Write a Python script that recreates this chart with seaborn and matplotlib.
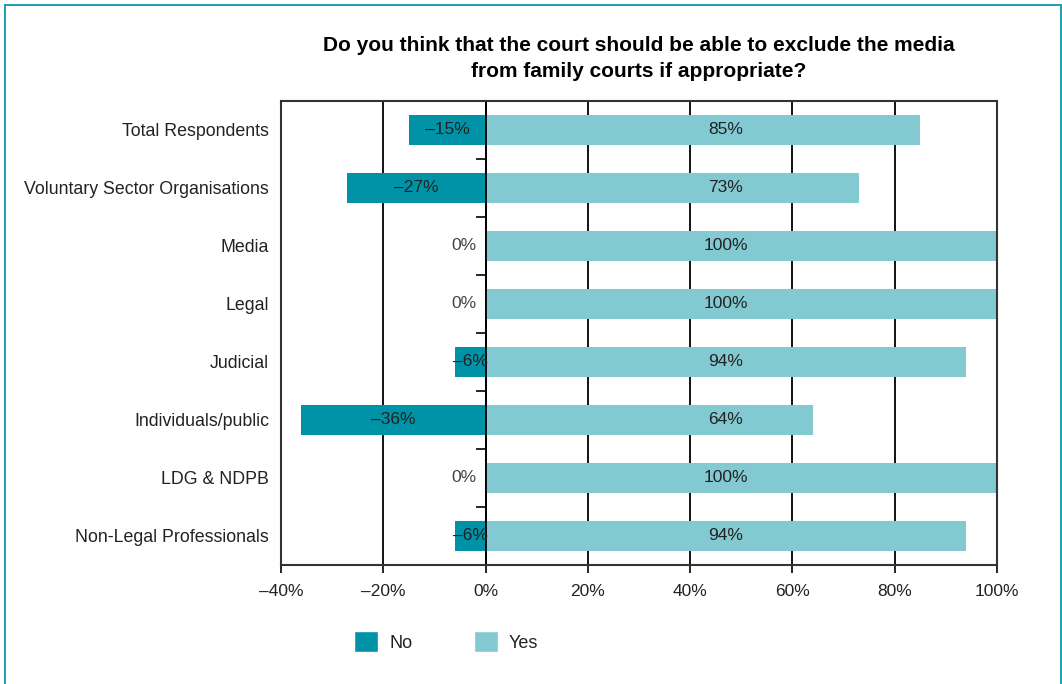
import matplotlib
matplotlib.use("Agg")
import matplotlib.pyplot as plt
from matplotlib.patches import Patch, Rectangle
import seaborn as sns
import pandas as pd

categories = [
    "Total Respondents",
    "Voluntary Sector Organisations",
    "Media",
    "Legal",
    "Judicial",
    "Individuals/public",
    "LDG & NDPB",
    "Non-Legal Professionals",
]
no_values = [-15, -27, 0, 0, -6, -36, 0, -6]
yes_values = [85, 73, 100, 100, 94, 64, 100, 94]
x_ticks = [-40, -20, 0, 20, 40, 60, 80, 100]
x_tick_labels = ["\u201340%", "\u201320%", "0%", "20%", "40%", "60%", "80%", "100%"]
title = ("Do you think that the court should be able to exclude the media\n"
         "from family courts if appropriate?")

NO_COLOR = "#0093A7"
YES_COLOR = "#82C9D1"
TEXT = "#222222"

sns.set_theme(style="white")
plt.rcParams["font.family"] = ["Liberation Sans", "DejaVu Sans"]

df = pd.DataFrame({
    "category": categories * 2,
    "response": ["No"] * len(categories) + ["Yes"] * len(categories),
    "value": no_values + yes_values,
})

fig = plt.figure(figsize=(10.62, 6.84), dpi=100)
ax = fig.add_axes([0.2646, 0.174, 0.6742, 0.6784])

sns.barplot(data=df, y="category", x="value", hue="response", orient="h",
            dodge=False, width=0.53, saturation=1, errorbar=None,
            palette={"No": NO_COLOR, "Yes": YES_COLOR},
            legend=False, ax=ax)
for p in ax.patches:
    p.set_linewidth(0)
    p.set_zorder(3)

ax.set_xlim(-40, 100)
ax.set_ylim(len(categories) - 0.5, -0.5)
ax.set_xticks(x_ticks)
ax.set_xticklabels(x_tick_labels)
ax.set_xlabel("")
ax.set_ylabel("")

# vertical reference lines sit behind the bars
ax.set_axisbelow(True)
ax.grid(axis="x", color="black", linewidth=1.3)
ax.grid(axis="y", visible=False)

ax.tick_params(axis="x", bottom=True, direction="out", length=6, width=1.2,
               color="black", labelsize=12.5, labelcolor=TEXT, pad=8)
ax.tick_params(axis="y", left=False, labelsize=12.8, labelcolor=TEXT, pad=2.5)
for sp in ax.spines.values():
    sp.set_visible(True)
    sp.set_color("#333333")
    sp.set_linewidth(1.5)
    sp.set_zorder(5)

# axis line at zero with ticks between categories
sec = ax.secondary_yaxis(40 / 140)
sec.set_zorder(4)
sec.set_yticks([i + 0.5 for i in range(len(categories) - 1)])
sec.set_yticklabels([])
sec.tick_params(axis="y", direction="out", length=7, width=1.2, color="black")
sec.spines["left"].set_color("black")
sec.spines["left"].set_linewidth(1.3)

# value labels
for i, (n, y) in enumerate(zip(no_values, yes_values)):
    if n == 0:
        ax.text(-1.8, i, "0%", ha="right", va="center", fontsize=12.5,
                color="#444444", zorder=6)
    else:
        ax.text(n / 2, i, f"\u2013{abs(n)}%", ha="center", va="center",
                fontsize=12.5, color=TEXT, zorder=6)
    ax.text(47, i, f"{y}%", ha="center", va="center", fontsize=12.5,
            color=TEXT, zorder=6)

fig.text(0.6017, 0.9145, title, ha="center", va="center", fontsize=15,
         fontweight="bold", color="black", linespacing=1.42)

handles = [Patch(facecolor=NO_COLOR, label="No"),
           Patch(facecolor=YES_COLOR, label="Yes")]
fig.legend(handles=handles, loc="center", bbox_to_anchor=(0.420, 0.062),
           ncol=2, frameon=False, fontsize=13, labelcolor=TEXT,
           handlelength=1.35, handleheight=1.35, handletextpad=0.6,
           columnspacing=3.4)

# outer frame
fig.patches.append(Rectangle((4.5 / 1062, -0.1), (1061 - 4.5) / 1062,
                             (684 - 5.5) / 684 + 0.1,
                             transform=fig.transFigure, fill=False,
                             edgecolor="#1AA0B2", lw=1.4, zorder=10))

fig.savefig("out.png", dpi=100)
